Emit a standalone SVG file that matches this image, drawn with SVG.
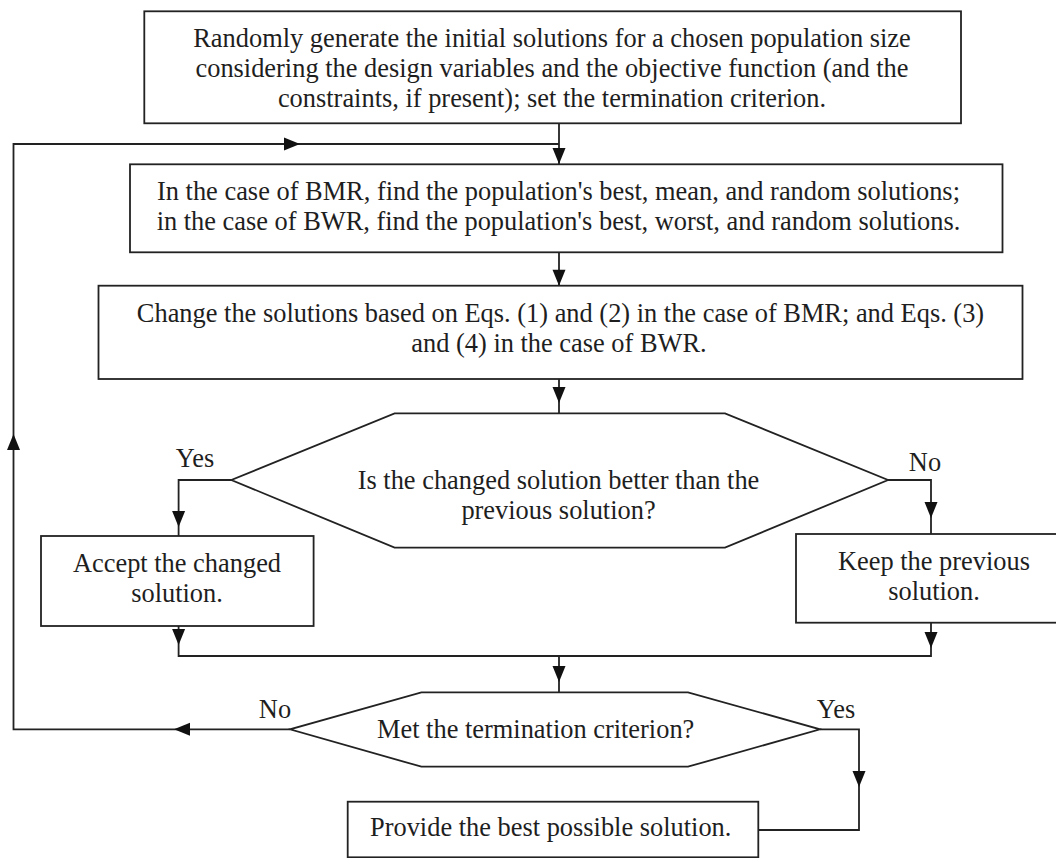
<svg xmlns="http://www.w3.org/2000/svg" xmlns:xlink="http://www.w3.org/1999/xlink" width="1056" height="858" viewBox="0 0 1056 858">
<style>
.n{fill:#fff;stroke:#222;stroke-width:1.8}
.c{fill:none;stroke:#222;stroke-width:1.8}
.t{font-family:"Liberation Serif","Times New Roman",serif;font-size:26.4px;fill:#1e1e1e}
.m{text-anchor:middle}
.a{fill:#111}
</style>
<defs>
<path id="ah" d="M0,0 L-16,-6.5 L-16,6.5 Z"/>
</defs>
<rect width="1056" height="858" fill="#fff"/>
<g id="connectors">
<path class="c" d="M559,123.3 V164"/>
<path class="c" d="M290,729.3 H13.5 V144 H559"/>
<path class="c" d="M559,252.3 V285.7"/>
<path class="c" d="M559,379 V413.3"/>
<path class="c" d="M231.4,480 H178.6 V536"/>
<path class="c" d="M888,480 H931 V534"/>
<path class="c" d="M178.6,626 V656 H931 V622.7"/>
<path class="c" d="M559,656 V692.3"/>
<path class="c" d="M820,729.3 H859 V830 H758.3"/>
<use class="a" xlink:href="#ah" transform="translate(559,164) rotate(90)"/>
<use class="a" xlink:href="#ah" transform="translate(300,144)"/>
<use class="a" xlink:href="#ah" transform="translate(13.5,434) rotate(-90)"/>
<use class="a" xlink:href="#ah" transform="translate(174,729.3) rotate(180)"/>
<use class="a" xlink:href="#ah" transform="translate(559,285.7) rotate(90)"/>
<use class="a" xlink:href="#ah" transform="translate(559,403) rotate(90)"/>
<use class="a" xlink:href="#ah" transform="translate(178.6,527) rotate(90)"/>
<use class="a" xlink:href="#ah" transform="translate(931,518) rotate(90)"/>
<use class="a" xlink:href="#ah" transform="translate(178.6,645) rotate(90)"/>
<use class="a" xlink:href="#ah" transform="translate(931,648) rotate(90)"/>
<use class="a" xlink:href="#ah" transform="translate(559,682) rotate(90)"/>
<use class="a" xlink:href="#ah" transform="translate(859,787) rotate(90)"/>
<text class="t m" x="195" y="467">Yes</text>
<text class="t m" x="925" y="471">No</text>
<text class="t m" x="275" y="718">No</text>
<text class="t m" x="836" y="718">Yes</text>
</g>
<g id="init">
<rect class="n" x="144.3" y="11.3" width="816.7" height="112"/>
<text class="t m" x="552" y="47">Randomly generate the initial solutions for a chosen population size</text>
<text class="t m" x="552" y="77">considering the design variables and the objective function (and the</text>
<text class="t m" x="552" y="107">constraints, if present); set the termination criterion.</text>
</g>
<g id="find">
<rect class="n" x="130" y="164.3" width="872.5" height="88"/>
<text class="t m" x="558.5" y="200">In the case of BMR, find the population's best, mean, and random solutions;</text>
<text class="t m" x="558.5" y="230">in the case of BWR, find the population's best, worst, and random solutions.</text>
</g>
<g id="change">
<rect class="n" x="98.5" y="285.7" width="924" height="93.3"/>
<text class="t m" x="560.5" y="321.7">Change the solutions based on Eqs. (1) and (2) in the case of BMR; and Eqs. (3)</text>
<text class="t m" x="559" y="351.7">and (4) in the case of BWR.</text>
</g>
<g id="better">
<polygon class="n" points="394.6,413.3 725,413.3 888,480 725,547.7 394.6,547.7 231.4,480"/>
<text class="t m" x="558.5" y="489">Is the changed solution better than the</text>
<text class="t m" x="558.5" y="519">previous solution?</text>
</g>
<g id="accept">
<rect class="n" x="41" y="536" width="272.6" height="90"/>
<text class="t m" x="177" y="572">Accept the changed</text>
<text class="t m" x="177" y="602">solution.</text>
</g>
<g id="keep">
<rect class="n" x="796" y="534" width="280" height="88.7"/>
<text class="t m" x="934" y="570">Keep the previous</text>
<text class="t m" x="934" y="600">solution.</text>
</g>
<g id="termination">
<polygon class="n" points="421.4,692.3 688,692.3 820,729.3 688,766.7 421.4,766.7 290,729.3"/>
<text class="t" x="377" y="738">Met the termination criterion?</text>
</g>
<g id="best">
<rect class="n" x="347.7" y="801.7" width="410.6" height="55.6"/>
<text class="t" x="370" y="836">Provide the best possible solution.</text>
</g>
</svg>
